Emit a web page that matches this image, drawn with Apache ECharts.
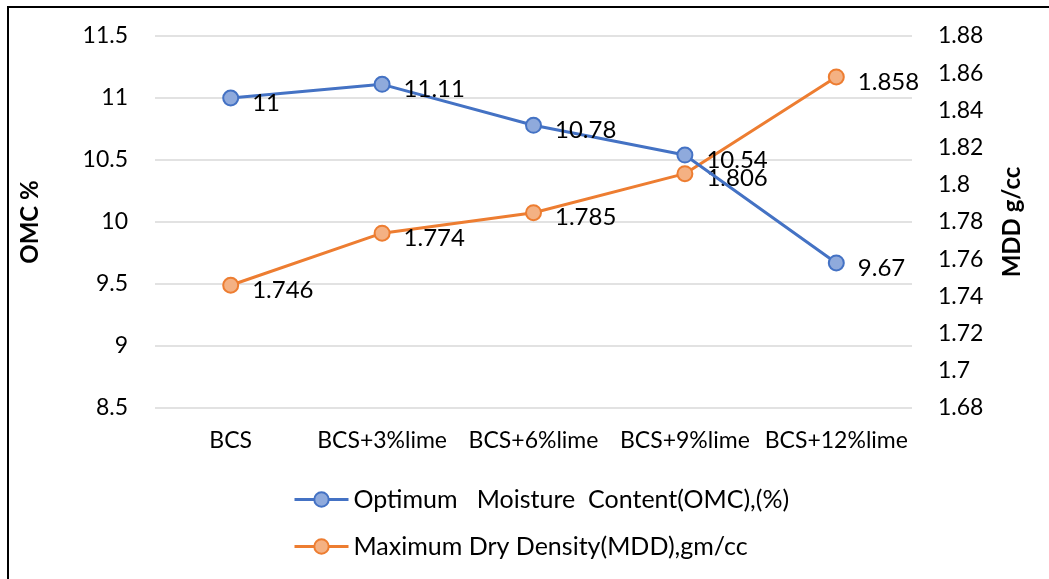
<!DOCTYPE html>
<html>
<head>
<meta charset="utf-8">
<script src="https://cdn.jsdelivr.net/npm/echarts@6/dist/echarts.min.js"></script>
<style>
  html, body { margin: 0; padding: 0; background: #fff; }
  #chart { width: 1049px; height: 579px; }
</style>
</head>
<body>
<div id="chart"></div>
<script>
// Lime stabilisation of black cotton soil: compaction results
const categories = ['BCS', 'BCS+3%lime', 'BCS+6%lime', 'BCS+9%lime', 'BCS+12%lime'];
const omcValues = [11, 11.11, 10.78, 10.54, 9.67];
const mddValues = [1.746, 1.774, 1.785, 1.806, 1.858];
const omcName = 'Optimum   Moisture  Content(OMC),(%)';
const mddName = 'Maximum Dry Density(MDD),gm/cc';

const FONT = 'Lato';
const AXIS_FS = 23;
const LABEL_FS = 24;
const LEGEND_FS = 25;
const TITLE_FS = 24;

const chart = echarts.init(document.getElementById('chart'), null, { renderer: 'canvas' });

const labelStyle = {
  show: true,
  position: 'right',
  distance: 13,
  offset: [0, 5],
  color: '#000',
  fontFamily: FONT,
  fontSize: LABEL_FS
};

chart.setOption({
  animation: false,
  backgroundColor: '#fff',
  textStyle: { fontFamily: FONT },
  graphic: [{
    type: 'rect',
    shape: { x: 8, y: 7, width: 1100, height: 640 },
    style: { fill: 'none', stroke: '#000', lineWidth: 2 },
    silent: true,
    z: 100
  }],
  grid: { left: 155, right: 137, top: 36, bottom: 171 },
  legend: {
    orient: 'vertical',
    left: 288,
    top: 482,
    itemGap: 22,
    itemWidth: 54,
    itemHeight: 18,
    lineStyle: { width: 3 },
    textStyle: { fontFamily: FONT, fontSize: LEGEND_FS, color: '#000' },
    data: [omcName, mddName]
  },
  xAxis: {
    type: 'category',
    data: categories,
    boundaryGap: true,
    axisLine: { show: false },
    axisTick: { show: false },
    axisLabel: { interval: 0, color: '#000', fontFamily: FONT, fontSize: AXIS_FS, margin: 21 }
  },
  yAxis: [{
    type: 'value',
    min: 8.5,
    max: 11.5,
    interval: 0.5,
    name: 'OMC %',
    nameLocation: 'middle',
    nameRotate: 90,
    nameGap: 113,
    nameTextStyle: { fontFamily: FONT, fontSize: TITLE_FS, fontWeight: 'bold', color: '#000' },
    axisLine: { show: false },
    axisTick: { show: false },
    axisLabel: { color: '#000', fontFamily: FONT, fontSize: AXIS_FS, margin: 27 },
    splitLine: { lineStyle: { color: '#d9d9d9', width: 1.5 } }
  }, {
    type: 'value',
    min: 1.68,
    max: 1.88,
    interval: 0.02,
    name: 'MDD g/cc',
    nameLocation: 'middle',
    nameRotate: 90,
    nameGap: 88,
    nameTextStyle: { fontFamily: FONT, fontSize: TITLE_FS, fontWeight: 'bold', color: '#000' },
    axisLine: { show: false },
    axisTick: { show: false },
    axisLabel: {
      color: '#000', fontFamily: FONT, fontSize: AXIS_FS, margin: 26,
      formatter: v => String(Number(v.toFixed(2)))
    },
    splitLine: { show: false }
  }],
  series: [{
    name: omcName,
    type: 'line',
    yAxisIndex: 0,
    data: omcValues,
    symbol: 'circle',
    symbolSize: 15,
    lineStyle: { color: '#4472C4', width: 3 },
    itemStyle: { color: '#8FAADC', borderColor: '#4472C4', borderWidth: 2 },
    label: labelStyle,
    z: 3
  }, {
    name: mddName,
    type: 'line',
    yAxisIndex: 1,
    data: mddValues,
    symbol: 'circle',
    symbolSize: 15,
    lineStyle: { color: '#ED7D31', width: 3 },
    itemStyle: { color: '#F4B183', borderColor: '#ED7D31', borderWidth: 2 },
    label: labelStyle,
    z: 2
  }]
});
</script>
</body>
</html>
